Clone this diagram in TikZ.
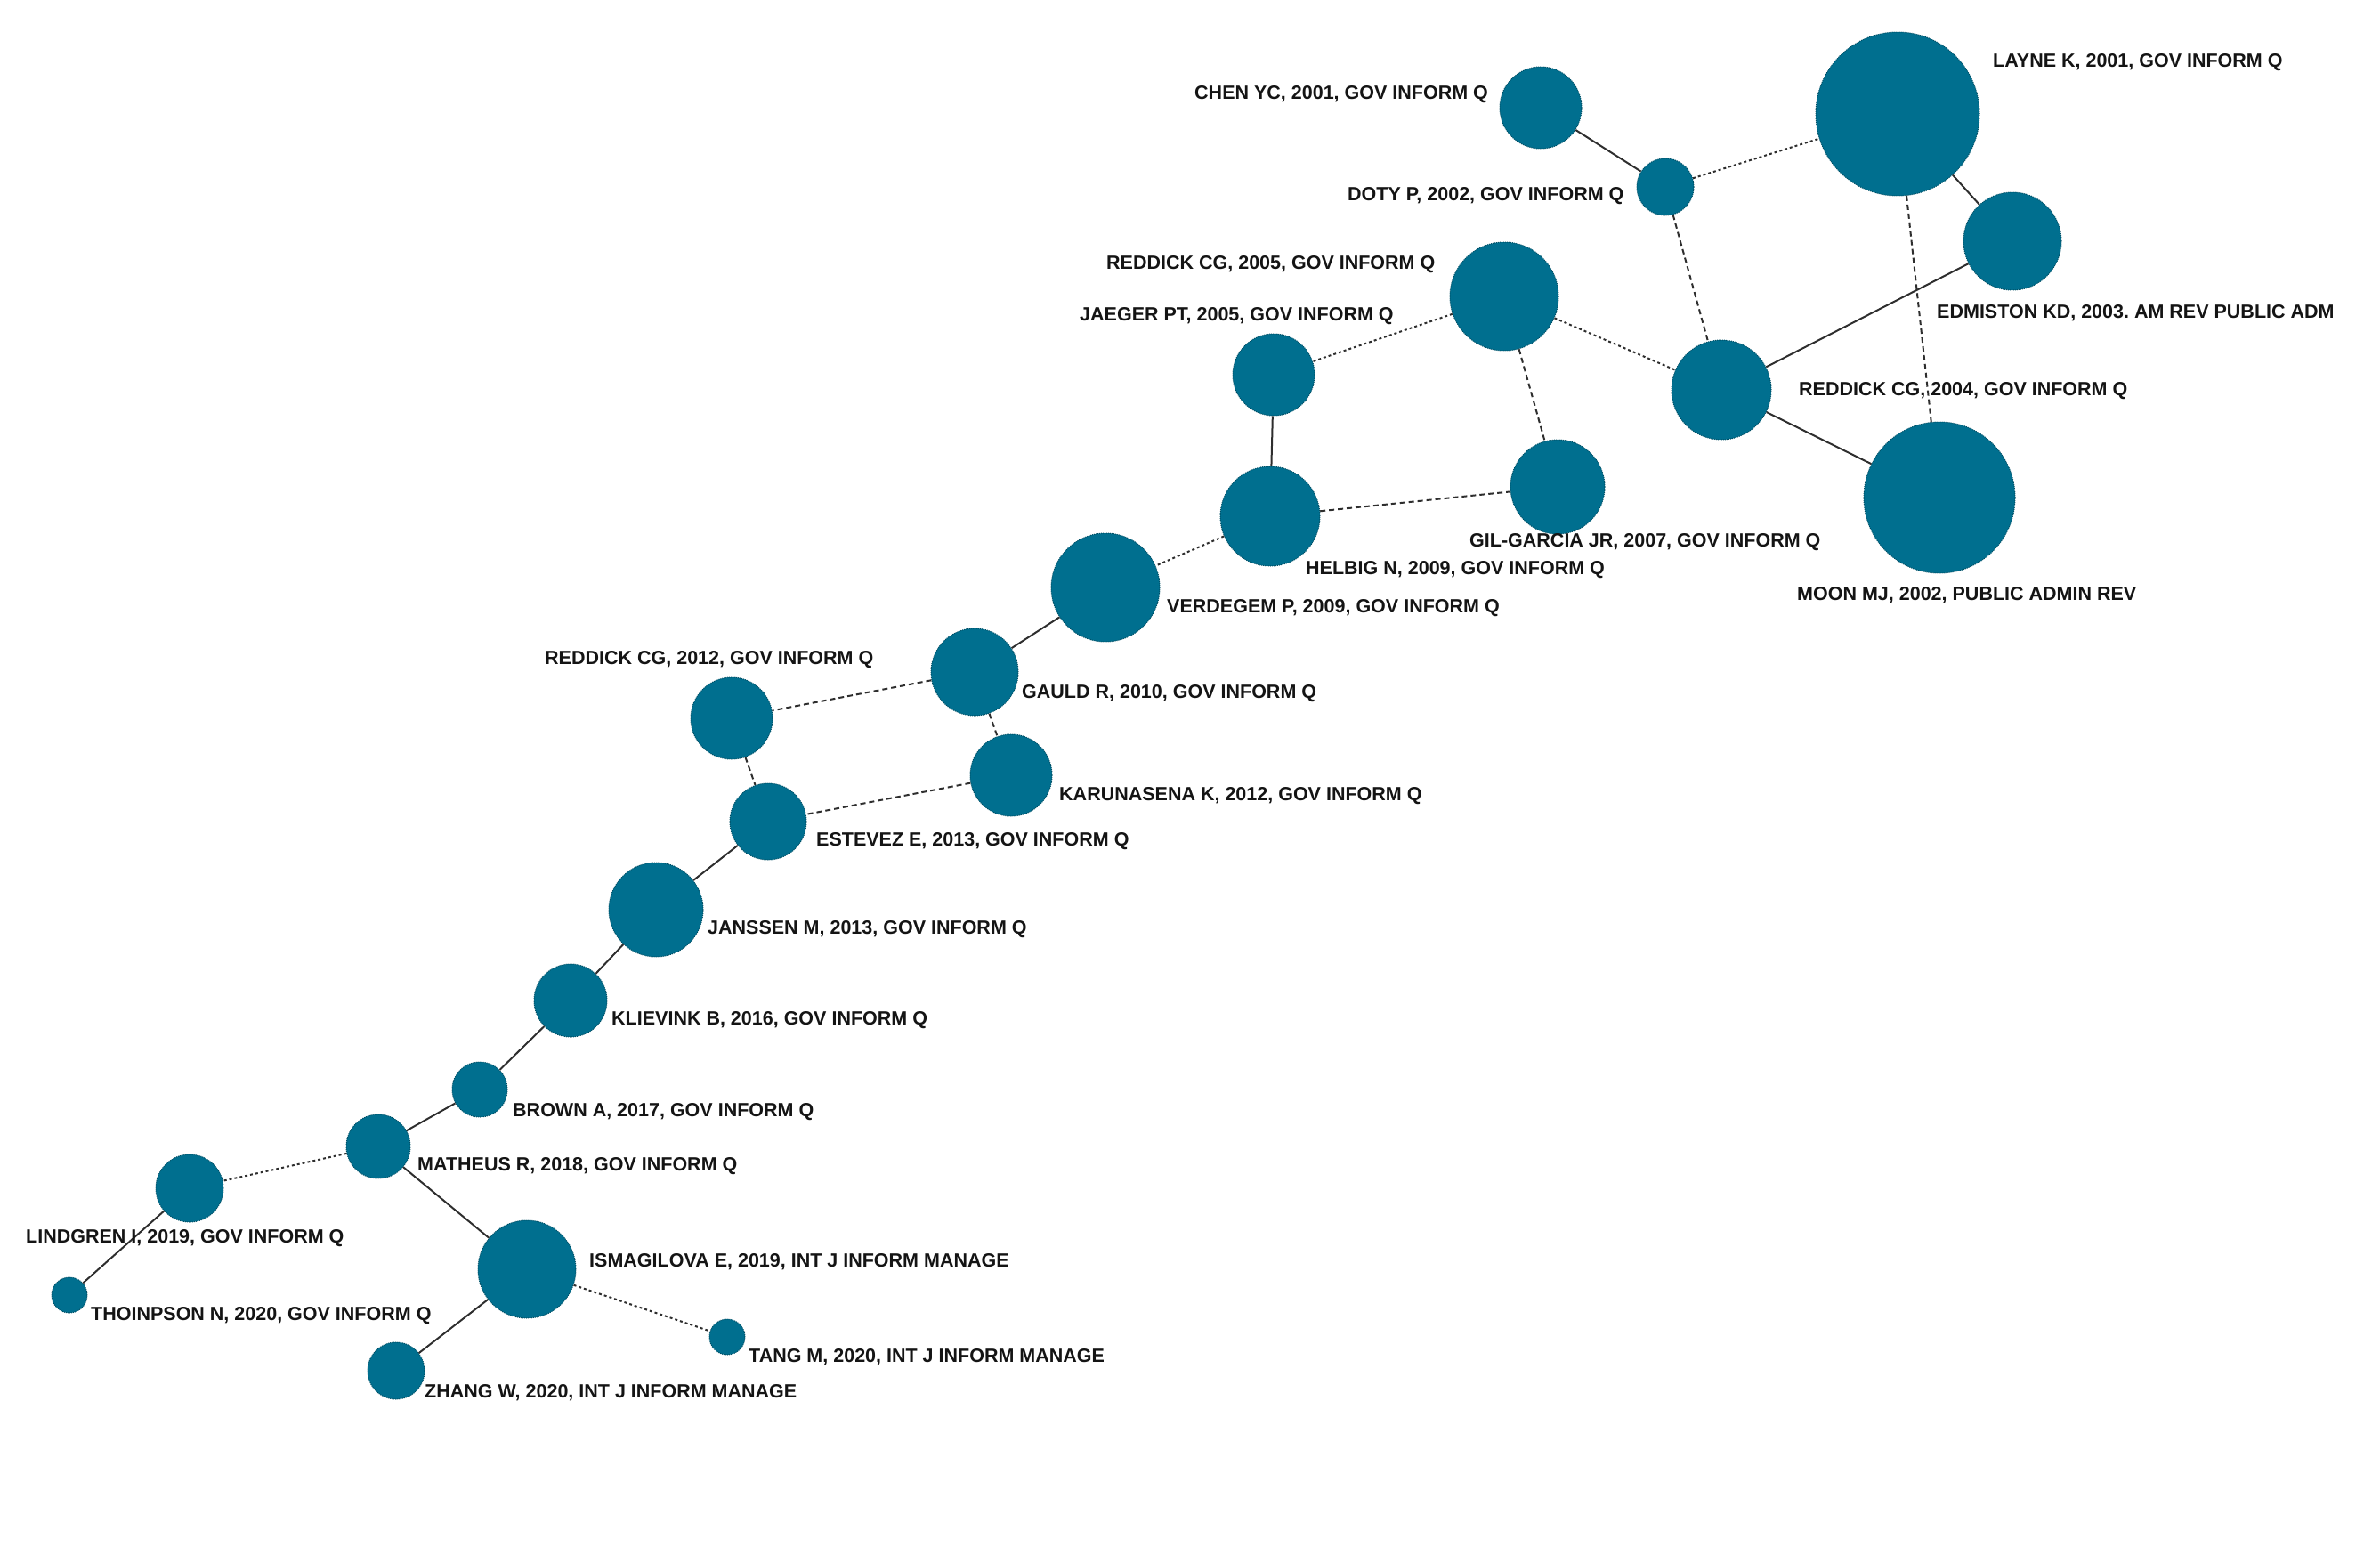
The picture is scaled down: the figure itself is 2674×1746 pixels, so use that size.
\documentclass[tikz,border=0pt]{standalone}
\usepackage{fontspec}
\setmainfont{Liberation Sans}
\definecolor{nodecol}{RGB}{0,111,143}
\begin{document}
\frenchspacing
\begin{tikzpicture}[x=1pt,y=-1pt,
  paper/.style={circle,fill=nodecol,draw=nodecol!70!black,line width=1pt,densely dotted,inner sep=0pt,minimum size=#1},
  lab/.style={anchor=west,inner sep=0pt,font=\fontsize{21.5}{24}\selectfont\bfseries,text=black!92,text height=15.5pt,text depth=0pt},
  link/.style={draw=black!82,line width=2pt},
  dlink/.style={draw=black!82,line width=2pt,dash pattern=on 6pt off 4pt},
  tlink/.style={draw=black!82,line width=2pt,dash pattern=on 3pt off 3pt}]
\useasboundingbox (0,0) rectangle (2674,1746);
% nodes
\node[paper=184pt] (layne) at (2132,128) {};
\node[paper=92pt] (chen) at (1731,121) {};
\node[paper=64pt] (doty) at (1871,210) {};
\node[paper=110pt] (edm) at (2261,271) {};
\node[paper=122pt] (red05) at (1690,333) {};
\node[paper=92pt] (jaeger) at (1431,421) {};
\node[paper=112pt] (red04) at (1934,438) {};
\node[paper=170pt] (moon) at (2179,559) {};
\node[paper=106pt] (gil) at (1750,547) {};
\node[paper=112pt] (helbig) at (1427,580) {};
\node[paper=122pt] (verd) at (1242,660) {};
\node[paper=98pt] (gauld) at (1095,755) {};
\node[paper=92pt] (red12) at (822,807) {};
\node[paper=92pt] (karu) at (1136,871) {};
\node[paper=86pt] (este) at (863,923) {};
\node[paper=106pt] (jans) at (737,1022) {};
\node[paper=82pt] (klie) at (641,1124) {};
\node[paper=62pt] (brown) at (539,1224) {};
\node[paper=72pt] (math) at (425,1288) {};
\node[paper=76pt] (lind) at (213,1335) {};
\node[paper=40pt] (thom) at (78,1455) {};
\node[paper=110pt] (isma) at (592,1426) {};
\node[paper=40pt] (tang) at (817,1502) {};
\node[paper=64pt] (zhang) at (445,1540) {};
% edges
\path[link] (chen) -- (doty);
\path[tlink] (doty) -- (layne);
\path[link] (layne) -- (edm);
\path[dlink] (layne) -- (moon);
\path[dlink] (doty) -- (red04);
\path[link] (edm) -- (red04);
\path[tlink] (red05) -- (red04);
\path[tlink] (red05) -- (jaeger);
\path[dlink] (red05) -- (gil);
\path[link] (red04) -- (moon);
\path[link] (jaeger) -- (helbig);
\path[dlink] (helbig) -- (gil);
\path[tlink] (helbig) -- (verd);
\path[link] (verd) -- (gauld);
\path[dlink] (gauld) -- (red12);
\path[dlink] (gauld) -- (karu);
\path[dlink] (red12) -- (este);
\path[dlink] (karu) -- (este);
\path[link] (este) -- (jans);
\path[link] (jans) -- (klie);
\path[link] (klie) -- (brown);
\path[link] (brown) -- (math);
\path[tlink] (math) -- (lind);
\path[link] (math) -- (isma);
\path[link] (lind) -- (thom);
\path[link] (isma) -- (zhang);
\path[tlink] (isma) -- (tang);
% labels
\node[lab] (tlayne) at (2239,68) {LAYNE K, 2001, GOV INFORM Q};
\node[lab] (tchen) at (1342,104) {CHEN YC, 2001, GOV INFORM Q};
\node[lab] (tdoty) at (1514,218) {DOTY P, 2002, GOV INFORM Q};
\node[lab] (tred05) at (1243,295) {REDDICK CG, 2005, GOV INFORM Q};
\node[lab] (tjaeger) at (1213,353) {JAEGER PT, 2005, GOV INFORM Q};
\node[lab] (tedm) at (2176,350) {EDMISTON KD, 2003. AM REV PUBLIC ADM};
\node[lab] (tred04) at (2021,437) {REDDICK CG, 2004, GOV INFORM Q};
\node[lab] (tgil) at (1651,607) {GIL-GARCIA JR, 2007, GOV INFORM Q};
\node[lab] (tmoon) at (2019,667) {MOON MJ, 2002, PUBLIC ADMIN REV};
\node[lab] (thelbig) at (1467,638) {HELBIG N, 2009, GOV INFORM Q};
\node[lab] (tverd) at (1311,681) {VERDEGEM P, 2009, GOV INFORM Q};
\node[lab] (tred12) at (612,739) {REDDICK CG, 2012, GOV INFORM Q};
\node[lab] (tgauld) at (1148,777) {GAULD R, 2010, GOV INFORM Q};
\node[lab] (tkaru) at (1190,892) {KARUNASENA K, 2012, GOV INFORM Q};
\node[lab] (teste) at (917,943) {ESTEVEZ E, 2013, GOV INFORM Q};
\node[lab] (tjans) at (795,1042) {JANSSEN M, 2013, GOV INFORM Q};
\node[lab] (tklie) at (687,1144) {KLIEVINK B, 2016, GOV INFORM Q};
\node[lab] (tbrown) at (576,1247) {BROWN A, 2017, GOV INFORM Q};
\node[lab] (tmath) at (469,1308) {MATHEUS R, 2018, GOV INFORM Q};
\node[lab] (tlind) at (29,1389) {LINDGREN I, 2019, GOV INFORM Q};
\node[lab] (tthom) at (102,1476) {THOINPSON N, 2020, GOV INFORM Q};
\node[lab] (tisma) at (662,1416) {ISMAGILOVA E, 2019, INT J INFORM MANAGE};
\node[lab] (ttang) at (841,1523) {TANG M, 2020, INT J INFORM MANAGE};
\node[lab] (tzhang) at (477,1563) {ZHANG W, 2020, INT J INFORM MANAGE};
\end{tikzpicture}
\end{document}
